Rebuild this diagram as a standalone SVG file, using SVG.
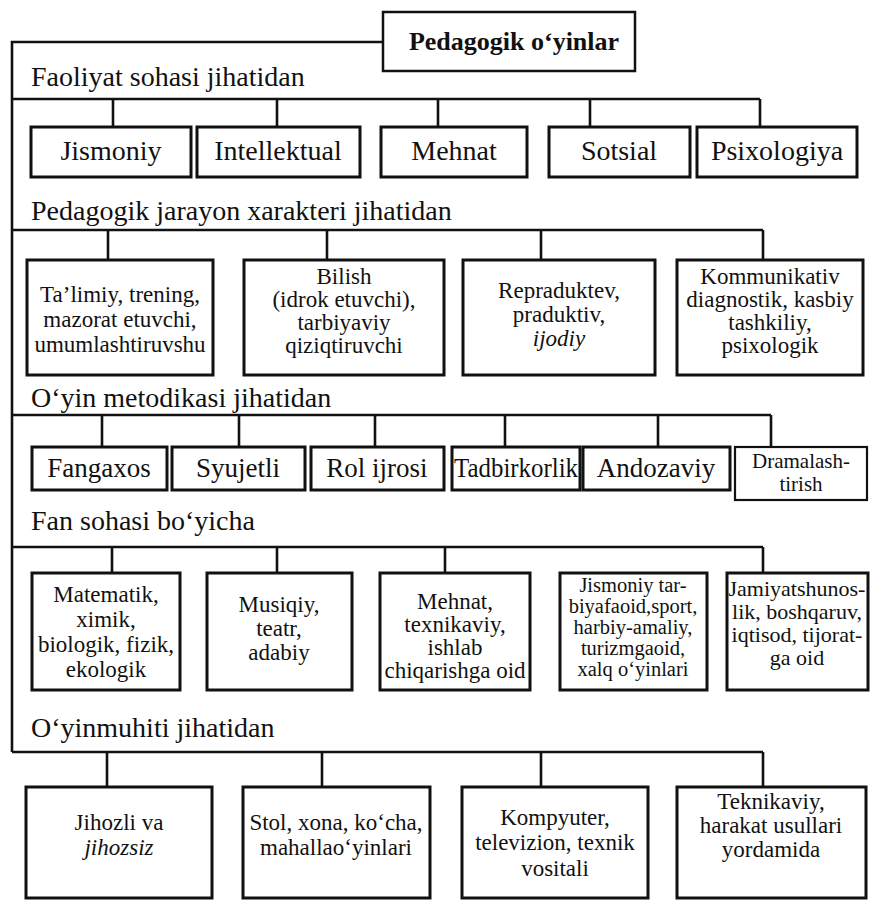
<svg xmlns="http://www.w3.org/2000/svg" width="870" height="903" viewBox="0 0 870 903">
<style>
.bg{fill:#fff}
.box{fill:#fff;stroke:#111;stroke-width:3}
.thin{fill:#fff;stroke:#111;stroke-width:2.2}
.con{fill:none;stroke:#111;stroke-width:2.6}
text{font-family:"Liberation Serif","Times New Roman",serif;fill:#111}
.lbl{font-size:28px}
.r1{font-size:28px;text-anchor:middle}
.r3{font-size:27px;text-anchor:middle}
.m{font-size:23px;text-anchor:middle}
.s{font-size:20.5px;text-anchor:middle}
.xs{font-size:21px;text-anchor:middle}
.it{font-style:italic}
.title{font-size:26px;font-weight:bold;text-anchor:middle}
</style>
<rect class="bg" x="0" y="0" width="870" height="903"/>

<g id="connectors">
<path class="con" d="M383,42 H12 V752"/>
<path class="con" d="M12,99 H760 M113,99 V127 M277,99 V127 M438,99 V127 M590,99 V127 M760,99 V127"/>
<path class="con" d="M12,230 H763 M108,230 V260 M327,230 V260 M541,230 V260 M763,230 V260"/>
<path class="con" d="M12,415 H771 M102,415 V447 M239,415 V447 M375,415 V447 M505,415 V447 M658,415 V447 M771,415 V447"/>
<path class="con" d="M12,547 H763 M112,547 V573 M277,547 V573 M445,547 V573 M763,547 V573"/>
<path class="con" d="M12,752 H763 M107,752 V787 M322,752 V787 M541,752 V787 M763,752 V787"/>
</g>

<g id="root">
<rect class="box" x="383" y="12" width="252" height="59" style="stroke-width:2.5"/>
<text class="title" x="514" y="50">Pedagogik o‘yinlar</text>
</g>

<g id="cat-faoliyat"><text class="lbl" x="31" y="86">Faoliyat sohasi jihatidan</text></g>
<g id="cat-jarayon"><text class="lbl" x="31" y="220">Pedagogik jarayon xarakteri jihatidan</text></g>
<g id="cat-metodika"><text class="lbl" x="31" y="407">O‘yin metodikasi jihatidan</text></g>
<g id="cat-fan"><text class="lbl" x="31" y="530">Fan sohasi bo‘yicha</text></g>
<g id="cat-muhit"><text class="lbl" x="31" y="737">O‘yinmuhiti jihatidan</text></g>

<g id="n1-jismoniy"><rect class="box" x="31" y="127" width="160" height="50"/><text class="r1" x="111" y="160">Jismoniy</text></g>
<g id="n1-intellektual"><rect class="box" x="197" y="127" width="163" height="50"/><text class="r1" x="278" y="160">Intellektual</text></g>
<g id="n1-mehnat"><rect class="box" x="381" y="127" width="146" height="50"/><text class="r1" x="454" y="160">Mehnat</text></g>
<g id="n1-sotsial"><rect class="box" x="549" y="127" width="141" height="50"/><text class="r1" x="619" y="160">Sotsial</text></g>
<g id="n1-psixologiya"><rect class="box" x="697" y="127" width="160" height="50"/><text class="r1" x="777" y="160">Psixologiya</text></g>

<g id="n2-talimiy"><rect class="box" x="27" y="260" width="186" height="115"/>
<text class="m" x="120" y="302">Ta’limiy, trening,</text>
<text class="m" x="120" y="327">mazorat etuvchi,</text>
<text class="m" x="120" y="352">umumlashtiruvshu</text></g>
<g id="n2-bilish"><rect class="box" x="244" y="260" width="200" height="115"/>
<text class="m" x="344" y="284">Bilish</text>
<text class="m" x="344" y="307">(idrok etuvchi),</text>
<text class="m" x="344" y="330">tarbiyaviy</text>
<text class="m" x="344" y="353">qiziqtiruvchi</text></g>
<g id="n2-repraduktev"><rect class="box" x="463" y="260" width="192" height="115"/>
<text class="m" x="559" y="298">Repraduktev,</text>
<text class="m" x="559" y="322">praduktiv,</text>
<text class="m it" x="559" y="346">ijodiy</text></g>
<g id="n2-kommunikativ"><rect class="box" x="677" y="260" width="186" height="115"/>
<text class="m" x="770" y="284">Kommunikativ</text>
<text class="m" x="770" y="307">diagnostik, kasbiy</text>
<text class="m" x="770" y="330">tashkiliy,</text>
<text class="m" x="770" y="353">psixologik</text></g>

<g id="n3-fangaxos"><rect class="box" x="32" y="447" width="135" height="43"/><text class="r3" x="99" y="477">Fangaxos</text></g>
<g id="n3-syujetli"><rect class="box" x="172" y="447" width="133" height="43"/><text class="r3" x="238" y="477">Syujetli</text></g>
<g id="n3-rol"><rect class="box" x="311" y="447" width="133" height="43"/><text class="r3" x="377" y="477">Rol ijrosi</text></g>
<g id="n3-tadbirkorlik"><rect class="box" x="452" y="447" width="128" height="43"/><text class="r3" x="516" y="477" textLength="124" lengthAdjust="spacingAndGlyphs">Tadbirkorlik</text></g>
<g id="n3-andozaviy"><rect class="box" x="583" y="447" width="147" height="43"/><text class="r3" x="656" y="477">Andozaviy</text></g>
<g id="n3-dramalash"><rect class="thin" x="735" y="447" width="132" height="53"/>
<text class="xs" x="801" y="468">Dramalash-</text>
<text class="xs" x="801" y="491">tirish</text></g>

<g id="n4-matematik"><rect class="box" x="32" y="573" width="148" height="117"/>
<text class="m" x="106" y="602">Matematik,</text>
<text class="m" x="106" y="627">ximik,</text>
<text class="m" x="106" y="652">biologik, fizik,</text>
<text class="m" x="106" y="677">ekologik</text></g>
<g id="n4-musiqiy"><rect class="box" x="207" y="573" width="145" height="117"/>
<text class="m" x="279" y="612">Musiqiy,</text>
<text class="m" x="279" y="636">teatr,</text>
<text class="m" x="279" y="660">adabiy</text></g>
<g id="n4-mehnat"><rect class="box" x="380" y="573" width="150" height="117"/>
<text class="m" x="455" y="609">Mehnat,</text>
<text class="m" x="455" y="632">texnikaviy,</text>
<text class="m" x="455" y="655">ishlab</text>
<text class="m" x="455" y="678">chiqarishga oid</text></g>
<g id="n4-jismoniy"><rect class="box" x="560" y="573" width="147" height="117"/>
<text class="s" x="633" y="592">Jismoniy tar-</text>
<text class="s" x="633" y="613">biyafaoid,sport,</text>
<text class="s" x="633" y="634">harbiy-amaliy,</text>
<text class="s" x="633" y="655">turizmgaoid,</text>
<text class="s" x="633" y="676">xalq o‘yinlari</text></g>
<g id="n4-jamiyat"><rect class="box" x="727" y="573" width="141" height="117"/>
<text class="m" x="797" y="596" style="font-size:22px">Jamiyatshunos-</text>
<text class="m" x="797" y="619" style="font-size:22px">lik, boshqaruv,</text>
<text class="m" x="797" y="642" style="font-size:22px">iqtisod, tijorat-</text>
<text class="m" x="797" y="665" style="font-size:22px">ga oid</text></g>

<g id="n5-jihozli"><rect class="box" x="26" y="787" width="186" height="111"/>
<text class="m" x="119" y="830">Jihozli va</text>
<text class="m it" x="119" y="855">jihozsiz</text></g>
<g id="n5-stol"><rect class="box" x="243" y="787" width="187" height="111"/>
<text class="m" x="336" y="830">Stol, xona, ko‘cha,</text>
<text class="m" x="336" y="855">mahallao‘yinlari</text></g>
<g id="n5-kompyuter"><rect class="box" x="462" y="787" width="186" height="111"/>
<text class="m" x="555" y="825">Kompyuter,</text>
<text class="m" x="555" y="850">televizion, texnik</text>
<text class="m" x="555" y="876">vositali</text></g>
<g id="n5-teknikaviy"><rect class="box" x="677" y="787" width="189" height="111"/>
<text class="m" x="771" y="809">Teknikaviy,</text>
<text class="m" x="771" y="833">harakat usullari</text>
<text class="m" x="771" y="857">yordamida</text></g>
</svg>
